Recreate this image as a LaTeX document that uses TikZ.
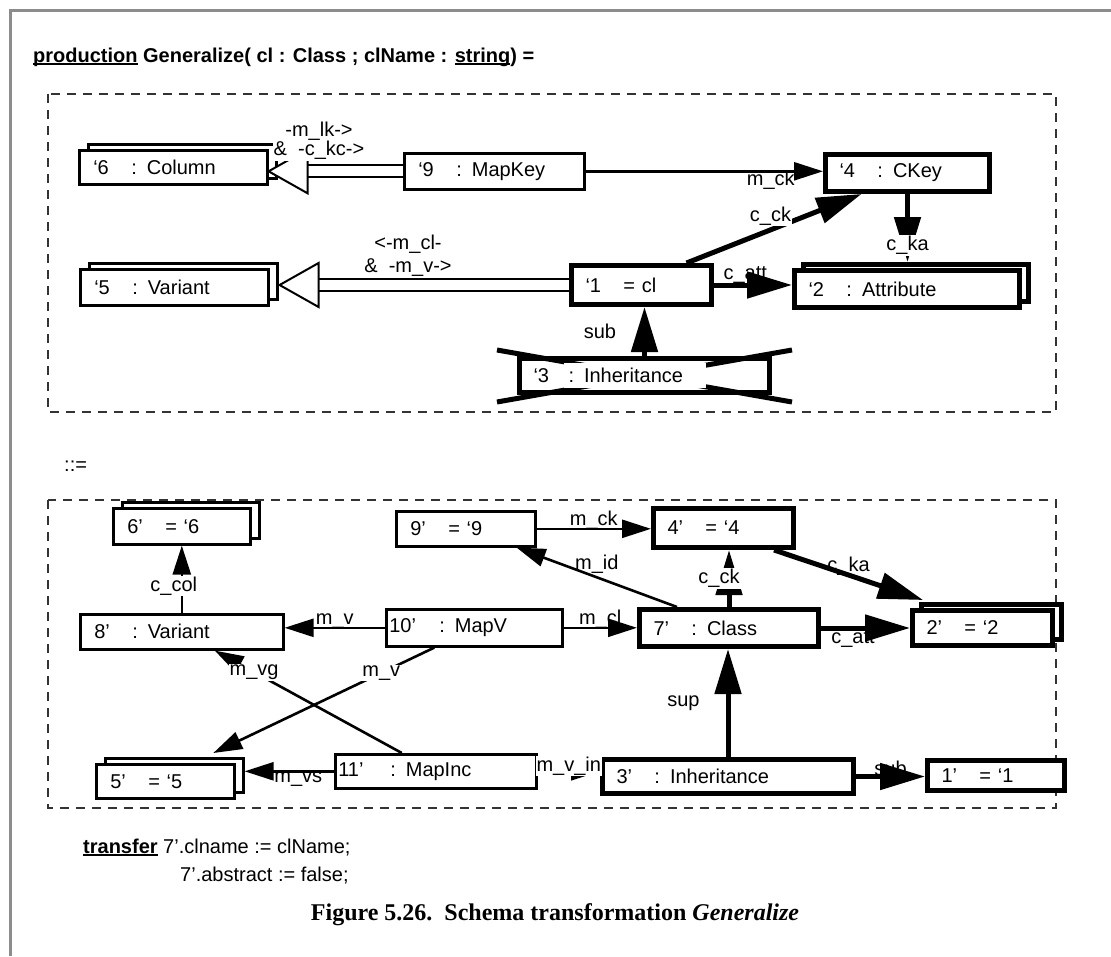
\documentclass[tikz,border=0pt]{standalone}
\usepackage{fontspec}
\setmainfont{Liberation Sans}
\newfontfamily\capserif{Liberation Serif}
\usetikzlibrary{arrows.meta, shadows, positioning}

\pgfdeclarelayer{background}
\pgfsetlayers{background,main}

\newcommand{\objfont}{\fontsize{20pt}{22pt}\selectfont}
\newcommand{\capfont}{\capserif\bfseries\fontsize{24pt}{28pt}\selectfont}
% object id in its own tab column
\newcommand{\oid}[2][38pt]{\makebox[#1][l]{#2}}
% keyword underline
\newcommand{\ulkw}[1]{\setbox0=\hbox{#1}\rlap{\rule[-2.5pt]{\wd0}{1.4pt}}\box0\relax}

\tikzset{
  obj/.style={draw, fill=white, line width=2.6pt, anchor=north west, inner xsep=14pt,
    inner ysep=0pt, align=left, font=\objfont},
  kobj/.style={obj, line width=5pt},
  multi/.style={copy shadow={shadow xshift=9pt, shadow yshift=6pt, draw, fill=white}},
  thinarr/.style={line width=2.6pt, -{Triangle[length=29pt, width=18pt]}},
  thickarr/.style={line width=5pt, -{Triangle[length=45pt, width=26pt]}},
  pathedge/.style={double, double distance=10pt, line width=2pt},
  openhead/.style={fill=white, line width=2pt, line join=miter},
  lbl/.style={font=\objfont, inner sep=1pt},
  lblw/.style={lbl, fill=white},
  rulebox/.style={draw=black!80, line width=1.1pt, dash pattern=on 9pt off 7pt},
  pageframe/.style={draw=black!45, line width=3pt}
}

\begin{document}
\begin{tikzpicture}[x=1pt, y=-1pt]
\useasboundingbox (0,0) rectangle (1111,956);
\draw[pageframe] (10,956) -- (10,10) -- (1111,10);

\node[anchor=base west, inner sep=0pt, font=\objfont\bfseries] (title) at (33,62)
  {\ulkw{production} Generalize( cl : Class ; clName : \ulkw{string}) =};

% left hand side
\draw[rulebox] (48,94) rectangle (1056,412);

\node[obj, multi, minimum height=34pt, text width=160pt] (c6) at (78,149) {\oid{‘6}: Column};
\node[obj, minimum height=36pt, text width=152pt] (k9) at (403,152) {\oid{‘9}: MapKey};
\node[kobj, minimum height=37pt, text width=136pt] (k4) at (823,152) {\oid{‘4}: CKey};
\node[obj, multi, minimum height=36pt, text width=160pt] (v5) at (79,268) {\oid{‘5}: Variant};
\node[kobj, minimum height=39pt, text width=112pt] (b1) at (569,263) {\oid{‘1}= cl};
\node[kobj, multi, minimum height=37pt, text width=197pt] (a2) at (792,268) {\oid{‘2}: Attribute};
\node[kobj, fill=none, minimum height=34pt, text width=222pt] (i3) at (517,356)
  {\oid[30pt]{‘3}\fboxsep=5pt\colorbox{white}{: Inheritance\hspace{18pt}}};

% crossed out (deleted) node
\begin{pgfonlayer}{background}
\draw[line width=5pt] ([shift={(-20,-6)}]i3.north west) -- ([shift={(20,7)}]i3.south east)
  ([shift={(-20,7)}]i3.south west) -- ([shift={(20,-6)}]i3.north east);
\end{pgfonlayer}

\draw[pathedge] (k9.west) -- ([xshift=39pt]c6.east |- k9.west);
\draw[openhead] (c6.east |- k9.west) -- ++(39,-22) -- ++(0,44) -- cycle;
\node[lblw, align=center, font=\fontsize{20pt}{18pt}\selectfont] (lk) at (319,141)
  {-m\_lk->\\\&\ \ -c\_kc->};

\draw[pathedge] (b1.west) -- ([xshift=49pt]v5.east |- b1.west);
\draw[openhead] ([xshift=10pt]v5.east |- b1.west) -- ++(39,-22) -- ++(0,44) -- cycle;
\node[lbl, align=center, font=\fontsize{20pt}{23pt}\selectfont] (mcl) at (408,256)
  {<-m\_cl-\\\&\ \ -m\_v->};

\draw[thinarr] (k9.east) -- (k4.west |- k9.east) node[lbl, pos=0.78, below=-3pt] {m\_ck};
\draw[thickarr] ([xshift=45pt]b1.north) -- ([xshift=-46pt]k4.south)
  node[lblw, pos=0.48, above=1pt] {c\_ck};
\draw[thickarr] (k4.south) -- ([yshift=6pt]k4.south |- a2.north) node[lblw, pos=0.76] {c\_ka};
\draw[thickarr] (b1.east) -- (a2.west |- b1.east) node[lbl, pos=0.4, above=-2pt] {c\_att};
\draw[thickarr] (i3.north) -- (i3.north |- b1.south) node[lbl, midway, left=25pt] {sub};

\node[anchor=west, inner sep=0pt, font=\objfont] (prod) at (64,466) {::=};

% right hand side
\draw[rulebox] (48,500) rectangle (1056,808);

\node[obj, multi, minimum height=36pt, text width=109pt] (n6) at (112,507) {\oid{6’}= ‘6};
\node[obj, minimum height=35pt, text width=111pt] (n9) at (395,510) {\oid{9’}= ‘9};
\node[kobj, minimum height=39pt, text width=112pt] (n4) at (651,506) {\oid{4’}= ‘4};
\node[obj, minimum height=35pt, text width=175pt] (n8) at (79,613) {\oid{8’}: Variant};
\node[obj, inner xsep=3pt, minimum height=37pt, text width=170pt] (n10) at (385,608) {\oid[50pt]{10’}: MapV};
\node[kobj, minimum height=37pt, text width=151pt] (n7) at (637,607) {\oid{7’}: Class};
\node[kobj, multi, minimum height=35pt, text width=112pt] (n2) at (910,608) {\oid{2’}= ‘2};
\node[obj, multi, minimum height=34pt, text width=110pt] (n5) at (95,763) {\oid{5’}= ‘5};
\node[obj, inner xsep=3pt, minimum height=34pt, text width=195pt] (n11) at (334,753) {\oid[52pt]{11’}: MapInc};
\node[kobj, minimum height=34pt, text width=223pt] (n3) at (600,757) {\oid{3’}: Inheritance};
\node[kobj, minimum height=30pt, text width=109pt] (n1) at (925,758) {\oid{1’}= ‘1};

\draw[thinarr] (n9.east) -- (n4.west |- n9.east) node[lbl, midway, above=-3pt] {m\_ck};
\draw[thinarr] ([xshift=-52pt]n7.north) -- ([xshift=-20pt]n9.south east)
  node[lbl, pos=0.5, above=2pt] {m\_id};
\draw[thickarr] (n7.north) -- (n7.north |- n4.south) node[lblw, pos=0.5, xshift=-10pt] {c\_ck};
\draw[thickarr] ([xshift=-22pt]n4.south east) -- ([shift={(13,-8)}]n2.north west)
  node[lbl, pos=0.5, above=-4pt] {c\_ka};
\draw[thickarr] (n7.east) -- (n2.west |- n7.east) node[lbl, pos=0.36, below=-1pt] {c\_att};
\draw[thinarr] (n10.west) -- (n8.east |- n10.west) node[lbl, midway, above=-3pt] {m\_v};
\draw[thinarr] (n10.east) -- (n7.west |- n10.east) node[lbl, midway, above=-3pt] {m\_cl};
\draw[thinarr] (n8.north) -- (n6.south) node[lblw, pos=0.4, xshift=-8pt] {c\_col};
\draw[thinarr] ([xshift=-34pt]n11.north) -- ([xshift=33pt]n8.south) node[lblw, pos=0.79] {m\_vg};
\draw[thinarr] ([xshift=-40pt]n10.south) -- ([shift={(48,-10)}]n5.north) node[lblw, pos=0.24] {m\_v};
\draw[thinarr] (n11.west) -- ([xshift=9pt]n5.east |- n11.west) node[lbl, pos=0.4, below=-2pt] {m\_vs};
\draw[thinarr] (n11.east) -- (n3.west |- n11.east) node[lblw, midway, above=-6pt] {m\_v\_in};
\draw[thickarr] (n3.north) -- (n3.north |- n7.south) node[lbl, midway, left=25pt] {sup};
\draw[thickarr] (n3.east) -- (n1.west |- n3.east) node[lbl, midway, above=-3pt] {sub};

\node[anchor=base west, inner sep=0pt, font=\objfont] (xfer1) at (83,853)
  {\ulkw{\bfseries transfer} 7’.clname := clName;};
\node[anchor=base west, inner sep=0pt, font=\objfont] (xfer2) at (180,881) {7’.abstract := false;};

\node[anchor=base, inner sep=0pt, font=\capfont] (cap) at (555,920)
  {Figure 5.26.\hspace{12pt}Schema transformation \textit{Generalize}};
\end{tikzpicture}
\end{document}
